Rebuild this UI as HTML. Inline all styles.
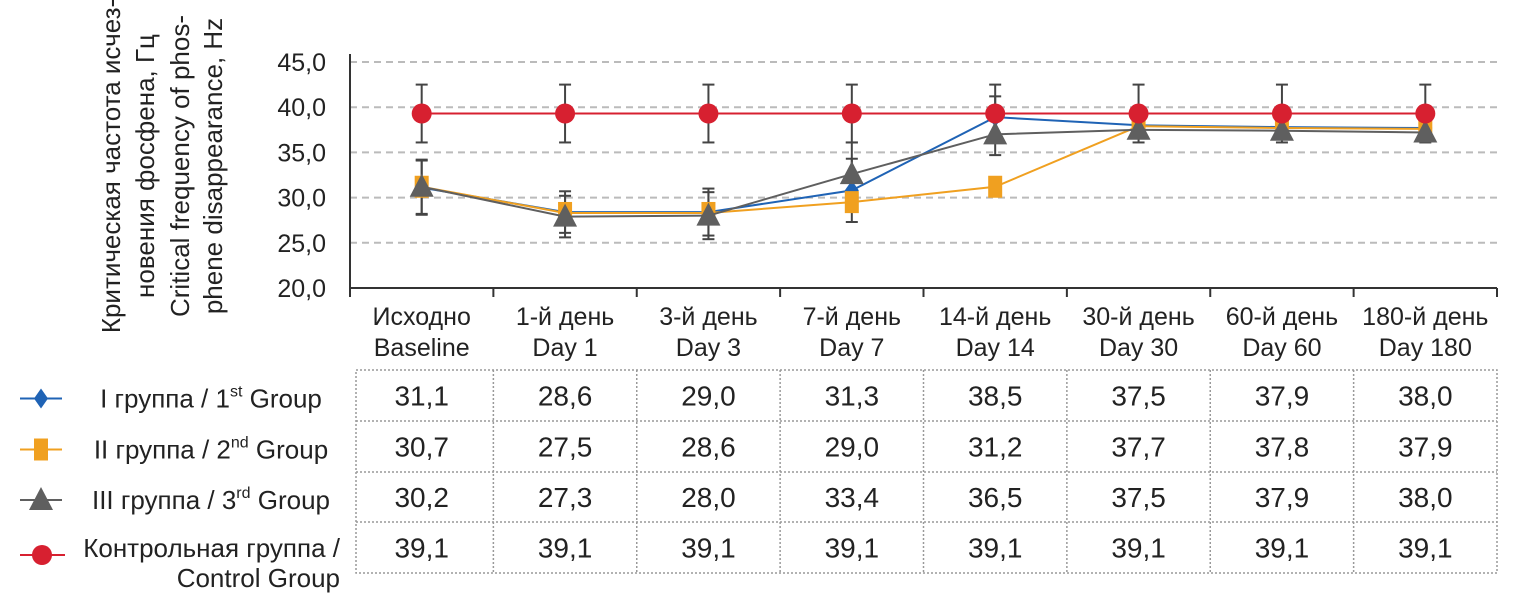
<!DOCTYPE html>
<html><head><meta charset="utf-8">
<style>
html,body{margin:0;padding:0;background:#fff;}
svg{display:block;font-family:"Liberation Sans Narrow","Liberation Sans",sans-serif;}
text{fill:#222;}
</style></head>
<body>
<svg id="chart" width="1521" height="596" viewBox="0 0 1521 596" xmlns="http://www.w3.org/2000/svg">
<g id="ylab" font-size="26">
  <text transform="translate(120,166) rotate(-90)" text-anchor="middle">Критическая частота исчез-</text>
  <text transform="translate(154,166) rotate(-90)" text-anchor="middle">новения фосфена, Гц</text>
  <text transform="translate(189,166) rotate(-90)" text-anchor="middle">Critical frequency of phos-</text>
  <text transform="translate(222,166) rotate(-90)" text-anchor="middle">phene disappearance, Hz</text>
</g>
<g id="grid"></g>
<g id="axes"></g>
<g id="series"></g>
<g id="table"></g>
<g id="legend"></g>
</svg>
<script>
const categoriesRu = ['Исходно','1-й день','3-й день','7-й день','14-й день','30-й день','60-й день','180-й день'];
const categoriesEn = ['Baseline','Day 1','Day 3','Day 7','Day 14','Day 30','Day 60','Day 180'];
const yTicks = [20,25,30,35,40,45];
const yTickLabels = ['20,0','25,0','30,0','35,0','40,0','45,0'];
// plotted values
const group1 = [31.1,28.4,28.4,30.8,38.9,38.0,37.8,37.7];
const group2 = [31.2,28.3,28.3,29.5,31.2,37.9,37.7,37.6];
const group3 = [31.2,27.9,28.0,32.6,37.0,37.5,37.4,37.2];
const control = [39.3,39.3,39.3,39.3,39.3,39.3,39.3,39.3];
const groupErr = [3.0,2.3,2.6,3.5,2.3,0.9,0.8,0.8];
const controlErr = [3.2,3.2,3.2,3.2,3.2,3.2,3.2,3.2];
// table values
const table1 = ['31,1','28,6','29,0','31,3','38,5','37,5','37,9','38,0'];
const table2 = ['30,7','27,5','28,6','29,0','31,2','37,7','37,8','37,9'];
const table3 = ['30,2','27,3','28,0','33,4','36,5','37,5','37,9','38,0'];
const tableC = ['39,1','39,1','39,1','39,1','39,1','39,1','39,1','39,1'];

const NS='http://www.w3.org/2000/svg';
const X0=350,X1=1497,Y0=288,Ymin=20,Ymax=45,Ytop=62;
const cw=(X1-X0)/categoriesRu.length;
const xc=i=>X0+cw*(i+0.5);
const yv=v=>Y0-(v-Ymin)*(Y0-Ytop)/(Ymax-Ymin);
function mk(tag,attrs,parent,txt){const e=document.createElementNS(NS,tag);for(const k in attrs)e.setAttribute(k,attrs[k]);if(txt!==undefined)e.textContent=txt;parent.appendChild(e);return e;}
const grid=document.getElementById('grid'),axes=document.getElementById('axes'),ser=document.getElementById('series'),tbl=document.getElementById('table'),leg=document.getElementById('legend');

yTicks.forEach((t,i)=>{
  if(t>Ymin){const l=mk('line',{x1:X0,x2:X1,y1:yv(t),y2:yv(t),stroke:'#bbb','stroke-width':2,'stroke-dasharray':'7,5'},grid);
  
  }
  const tx=mk('text',{x:326,y:yv(t)+9,'text-anchor':'end','font-size':25},axes,yTickLabels[i]);
  
  
});
mk('line',{x1:X0,x2:X0,y1:Ytop-8,y2:Y0,stroke:'#333','stroke-width':2},axes);
mk('line',{x1:X0,x2:X1,y1:Y0,y2:Y0,stroke:'#333','stroke-width':2},axes);
for(let i=0;i<=categoriesRu.length;i++){mk('line',{x1:X0+cw*i,x2:X0+cw*i,y1:Y0,y2:Y0+9,stroke:'#333','stroke-width':2},axes);}
categoriesRu.forEach((c,i)=>{
  const a=mk('text',{x:xc(i),y:325,'text-anchor':'middle','font-size':25},axes,c);
  
  
  const b=mk('text',{x:xc(i),y:356,'text-anchor':'middle','font-size':25},axes,categoriesEn[i]);
  
  
});

function errbars(vals,errs,name){
  vals.forEach((v,i)=>{
    const g=mk('g',{stroke:'#444','stroke-width':2},ser);
    
    
    const a=yv(v+errs[i]),b=yv(v-errs[i]),x=xc(i);
    mk('line',{x1:x,x2:x,y1:a,y2:b},g);
    mk('line',{x1:x-6,x2:x+6,y1:a,y2:a},g);
    mk('line',{x1:x-6,x2:x+6,y1:b,y2:b},g);
  });
}
errbars(group1,groupErr,'error-bar-group1');
errbars(group3,groupErr,'error-bar-group3');
errbars(control,controlErr,'error-bar-control');

function marker(kind,x,y,color,parent){
  let m;
  if(kind==='diamond')m=mk('polygon',{points:`${x},${y-10} ${x+7},${y} ${x},${y+10} ${x-7},${y}`,fill:color},parent);
  else if(kind==='square')m=mk('rect',{x:x-7,y:y-11,width:14,height:22,fill:color},parent);
  else if(kind==='tri')m=mk('polygon',{points:`${x},${y-13} ${x+12},${y+10} ${x-12},${y+10}`,fill:color},parent);
  else m=mk('ellipse',{cx:x,cy:y,rx:10,ry:10,fill:color},parent);
  return m;
}
function series(vals,color,kind,name){
  const g=mk('g',{},ser);
  
  
  mk('polyline',{points:vals.map((v,i)=>xc(i)+','+yv(v)).join(' '),fill:'none',stroke:color,'stroke-width':2},g);
  vals.forEach((v,i)=>{const m=marker(kind,xc(i),yv(v),color,g);
    
    });
}
series(group1,'#1f63b5','diamond','series-group1');
series(group2,'#f0a020','square','series-group2');
series(group3,'#5f5f5f','tri','series-group3');
series(control,'#d72030','circle','series-control');

// table
const TX0=356,rowsY=[370,421,472,522,573];
const tables=[table1,table2,table3,tableC];
mk('rect',{x:TX0,y:rowsY[0],width:X1-TX0,height:rowsY[4]-rowsY[0],fill:'none',stroke:'#999','stroke-width':1.5,'stroke-dasharray':'2,2'},tbl);
for(let r=1;r<4;r++)mk('line',{x1:TX0,x2:X1,y1:rowsY[r],y2:rowsY[r],stroke:'#999','stroke-width':1.5,'stroke-dasharray':'2,2'},tbl);
for(let i=1;i<8;i++)mk('line',{x1:X0+cw*i,x2:X0+cw*i,y1:rowsY[0],y2:rowsY[4],stroke:'#999','stroke-width':1.5,'stroke-dasharray':'2,2'},tbl);
tables.forEach((row,r)=>row.forEach((v,i)=>{
  const t=mk('text',{x:xc(i),y:(rowsY[r]+rowsY[r+1])/2+10,'text-anchor':'middle','font-size':28},tbl,v);
  
  
}));

// legend
const legItems=[['#1f63b5','diamond',['I группа / 1','st',' Group']],['#f0a020','square',['II группа / 2','nd',' Group']],['#5f5f5f','tri',['III группа / 3','rd',' Group']]];
legItems.forEach((it,r)=>{
  const g=mk('g',{},leg);
  
  
  const cy=(rowsY[r]+rowsY[r+1])/2+3;
  mk('line',{x1:20,x2:62,y1:cy,y2:cy,stroke:it[0],'stroke-width':2},g);
  marker(it[1],41,cy,it[0],g);
  const t=mk('text',{x:211,y:cy+9,'text-anchor':'middle','font-size':26},g);
  mk('tspan',{},t,it[2][0]);
  mk('tspan',{'font-size':16,dy:-11},t,it[2][1]);
  mk('tspan',{dy:11},t,it[2][2]);
});
const gc=mk('g',{},leg);


mk('line',{x1:20,x2:65,y1:555,y2:555,stroke:'#d72030','stroke-width':2},gc);
marker('circle',42,555,'#d72030',gc);
mk('text',{x:340,y:557,'text-anchor':'end','font-size':26},gc,'Контрольная группа /');
mk('text',{x:340,y:587,'text-anchor':'end','font-size':26},gc,'Control Group');
</script>
</body></html>
